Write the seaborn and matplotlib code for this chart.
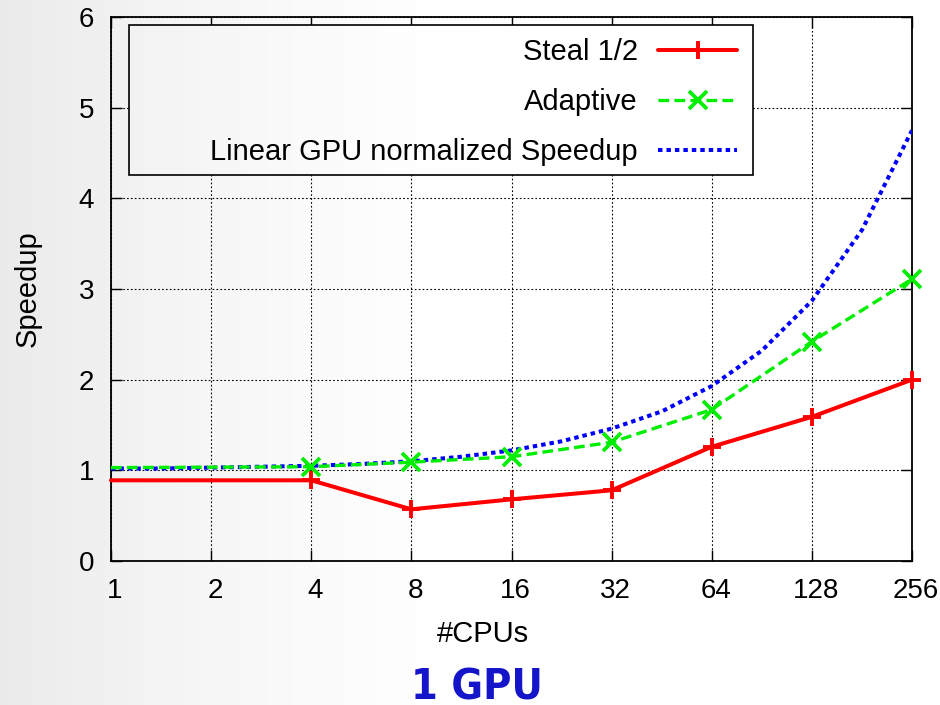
import numpy as np
import pandas as pd
import matplotlib
matplotlib.use("Agg")
import matplotlib.pyplot as plt
from matplotlib.lines import Line2D
from matplotlib.patches import Rectangle
import matplotlib.transforms as mtransforms
import seaborn as sns

# ---------------- data ----------------
cpus = [1, 4, 8, 16, 32, 64, 128, 256]
steal = [0.89, 0.89, 0.57, 0.68, 0.78, 1.26, 1.59, 2.00]
adaptive = [1.03, 1.04, 1.09, 1.15, 1.31, 1.67, 2.42, 3.11]
linear_x = [1, 1.41, 2, 2.83, 4, 5.66, 8, 11.3, 16, 22.6, 32, 45.3, 64, 90.5, 128, 181, 256]
linear_y = [1.02, 1.02, 1.03, 1.04, 1.05, 1.07, 1.10, 1.15, 1.22, 1.32, 1.46, 1.65, 1.93,
            2.32, 2.87, 3.65, 4.75]
xticks = [1, 2, 4, 8, 16, 32, 64, 128, 256]
xtick_labels = ["1", "2", "4", "8", "16", "32", "64", "128", "256"]
yticks = [0, 1, 2, 3, 4, 5, 6]
labels = ["Steal 1/2", "Adaptive", "Linear GPU normalized Speedup"]

sns.set_theme(style="ticks")
plt.rcParams["font.family"] = ["Liberation Sans", "DejaVu Sans"]

W, H = 940, 705
fig = plt.figure(figsize=(W / 100, H / 100), dpi=100)

# slide background gradient
xs = np.linspace(0, 1, W)
shade = 1 - 0.08 * np.clip(1 - xs * W / 480, 0, 1) ** 1.5
grad = np.tile(shade, (H, 1))
grad_rgb = np.dstack([grad, grad, grad])
bg = fig.add_axes([0, 0, 1, 1], zorder=-2)
bg.imshow(grad_rgb, extent=[0, 1, 0, 1], aspect="auto")
bg.set_xlim(0, 1); bg.set_ylim(0, 1)
bg.set_axis_off()

ax = fig.add_axes([111 / W, 1 - 561 / H, 801 / W, 544 / H])
ax.set_facecolor("none")

RED, GREEN, BLUE = "#ff0000", "#00ee00", "#0000ff"
GREEN_DASH = (0, (3.2, 1.6))
BLUE_DOT = (0, (1.1, 1.0))

sns.lineplot(x=cpus, y=steal, ax=ax, color=RED, lw=2.9, linestyle="-",
             marker="+", markevery=slice(1, None), ms=12.5, mew=2.8, mec=RED, mfc=RED,
             clip_on=False, zorder=5)
sns.lineplot(x=cpus, y=adaptive, ax=ax, color=GREEN, lw=2.4, linestyle=GREEN_DASH,
             marker="x", markevery=slice(1, None), ms=13.5, mew=2.7, mec=GREEN, mfc=GREEN,
             clip_on=False, zorder=5)
sns.lineplot(x=linear_x, y=linear_y, ax=ax, color=BLUE, lw=2.9, linestyle=BLUE_DOT,
             zorder=4, dash_capstyle="butt")
if ax.get_legend() is not None:
    ax.get_legend().remove()

ax.set_xscale("log", base=2)
ax.set_xlim(1, 256)
ax.set_ylim(0, 6)
ax.set_xticks(xticks)
ax.set_xticklabels(xtick_labels)
ax.minorticks_off()
ax.set_yticks(yticks)
ax.set_yticklabels([str(v) for v in yticks])
ax.grid(True, color="black", linestyle=(0, (1.5, 2.0)), lw=0.8, zorder=1)
ax.tick_params(axis="both", direction="in", length=8, width=1.0, top=True, right=True,
               labelsize=20, colors="black")
ax.tick_params(axis="x", pad=12)
ax.tick_params(axis="y", pad=12)
shift = mtransforms.ScaledTranslation(4 / 100, 0, fig.dpi_scale_trans)
for lab in ax.get_xticklabels():
    lab.set_transform(lab.get_transform() + shift)
for s in ax.spines.values():
    s.set_color("black"); s.set_linewidth(1.3); s.set_visible(True)

ax.set_xlabel("#CPUs", fontsize=21, color="black")
ax.xaxis.set_label_coords((483 - 111) / 801, (561 - 620) / 544)
ax.set_ylabel("Speedup", fontsize=21, color="black")
ax.yaxis.label.set_va("center")
ax.yaxis.set_label_coords((28 - 111) / 801, 0.5)

# legend box overlay (hides grid inside, shows background)
ov = fig.add_axes([0, 0, 1, 1], zorder=3)
ov.set_xlim(0, 1); ov.set_ylim(0, 1)
ov.set_axis_off()
ov.patch.set_alpha(0)
rect = Rectangle((129 / W, 1 - 175 / H), 624 / W, 150 / H, transform=ov.transAxes,
                 fill=False, ec="black", lw=1.2)
ov.add_patch(rect)
im = ov.imshow(grad_rgb, extent=[0, 1, 0, 1], aspect="auto", zorder=0)
im.set_clip_path(rect)

handles = [
    Line2D([], [], color=RED, lw=2.9, marker="+", ms=12.5, mew=2.8),
    Line2D([], [], color=GREEN, lw=2.4, linestyle=GREEN_DASH, marker="x", ms=13.5, mew=2.7),
    Line2D([], [], color=BLUE, lw=2.9, linestyle=BLUE_DOT),
]
leg = ov.legend(handles, labels, loc="upper right", bbox_to_anchor=(737 / W, 1 - 38 / H),
                frameon=False, borderpad=0, borderaxespad=0, markerfirst=False,
                fontsize=21, handlelength=2.7, handletextpad=0.7, labelspacing=0.75,
                numpoints=1)
for t in leg.get_texts():
    t.set_color("black")

fig.text(477 / W, 6 / H, "1 GPU", ha="center", va="baseline", fontsize=31,
         fontweight="bold", fontstretch="condensed", color="#1414c8", family="DejaVu Sans")

fig.savefig("out.png", dpi=100)
